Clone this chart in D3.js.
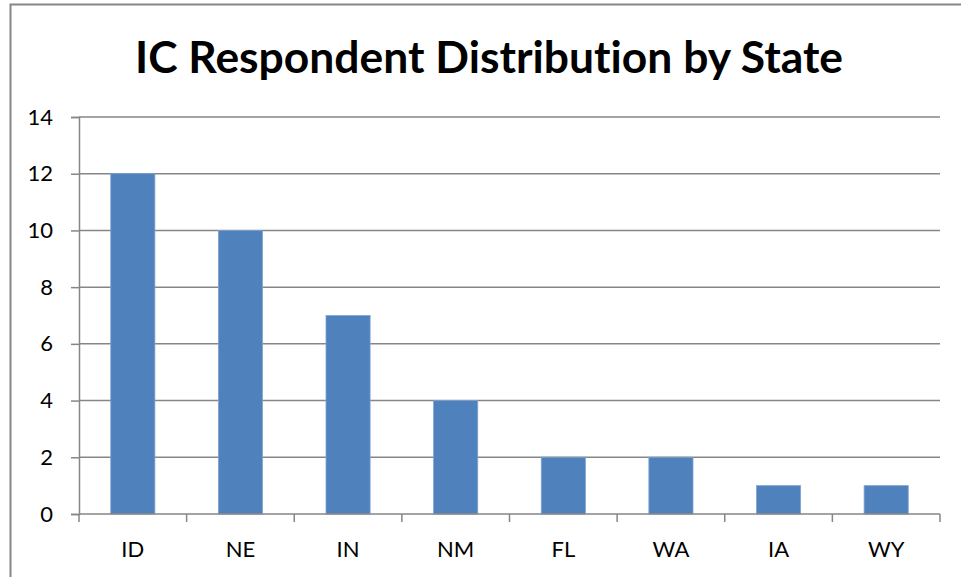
<!DOCTYPE html>
<html><head><meta charset="utf-8">
<script src="https://cdn.jsdelivr.net/npm/d3@7"></script>
<style>body{margin:0;background:#fff}svg{display:block}text{font-variant-ligatures:none;font-feature-settings:"liga" 0}</style>
</head><body>
<script>
const states = ["ID","NE","IN","NM","FL","WA","IA","WY"];
const counts = [12,10,7,4,2,2,1,1];
const yTicks = [0,2,4,6,8,10,12,14];
const title = "IC Respondent Distribution by State";

const W = 961, H = 577;
const svg = d3.select("body").append("svg").attr("width", W).attr("height", H);
svg.append("rect").attr("x", 10.5).attr("y", 4.5).attr("width", 1000).attr("height", 1000)
  .attr("fill", "#fff").attr("stroke", "#868686").attr("stroke-width", 2);

const m = {left: 79, right: 940, top: 117, bottom: 514};
const x = d3.scaleBand().domain(states).range([m.left, m.right]).paddingInner(0.59).paddingOuter(0.295);
const xb = d3.scaleBand().domain(states).range([m.left, m.right]);
const y = d3.scaleLinear().domain([0, 14]).range([m.bottom, m.top]);

const font = "Lato, 'Open Sans', sans-serif";

svg.append("text").attr("x", 489).attr("y", 73).attr("text-anchor", "middle")
  .attr("font-family", font).attr("font-weight", "bold").attr("font-size", 44)
  .attr("textLength", 708).attr("lengthAdjust", "spacingAndGlyphs")
  .attr("fill", "#000").text(title);

// gridlines
svg.append("g").selectAll("line").data(yTicks.filter(d => d > 0)).join("line")
  .attr("x1", m.left).attr("x2", m.right).attr("y1", d => y(d)).attr("y2", d => y(d))
  .attr("stroke", "#868686").attr("stroke-width", 1.5);

// bars
svg.append("g").selectAll("rect").data(states).join("rect")
  .attr("x", (d) => x(d)).attr("width", x.bandwidth())
  .attr("y", (d, i) => y(counts[i])).attr("height", (d, i) => y(0) - y(counts[i]))
  .attr("fill", "#4F81BD").attr("stroke", "#7fa3d1").attr("stroke-width", 0.8);

// y axis
const yAxis = d3.axisLeft(y).tickValues(yTicks).tickSize(8).tickPadding(18);
const gy = svg.append("g").attr("transform", `translate(${m.left},0)`).call(yAxis);
gy.select(".domain").attr("stroke", "#868686").attr("stroke-width", 1.5);
gy.selectAll(".tick line").attr("stroke", "#868686").attr("stroke-width", 1.5);
gy.selectAll("text").attr("font-family", font).attr("font-size", 22).attr("fill", "#000");

// x axis
const gx = svg.append("g").attr("transform", `translate(0,${m.bottom})`);
gx.append("line").attr("x1", m.left).attr("x2", m.right).attr("stroke", "#868686").attr("stroke-width", 1.5);
const bounds = states.map(s => xb(s)).concat([m.right]);
gx.selectAll("line.t").data(bounds).join("line").attr("class", "t")
  .attr("x1", d => d).attr("x2", d => d).attr("y1", 0).attr("y2", 8)
  .attr("stroke", "#868686").attr("stroke-width", 1.5);
gx.selectAll("text").data(states).join("text")
  .attr("x", d => xb(d) + xb.bandwidth() / 2).attr("y", 43).attr("text-anchor", "middle")
  .attr("font-family", font).attr("font-size", 22).attr("fill", "#000").text(d => d);
</script>
</body></html>
